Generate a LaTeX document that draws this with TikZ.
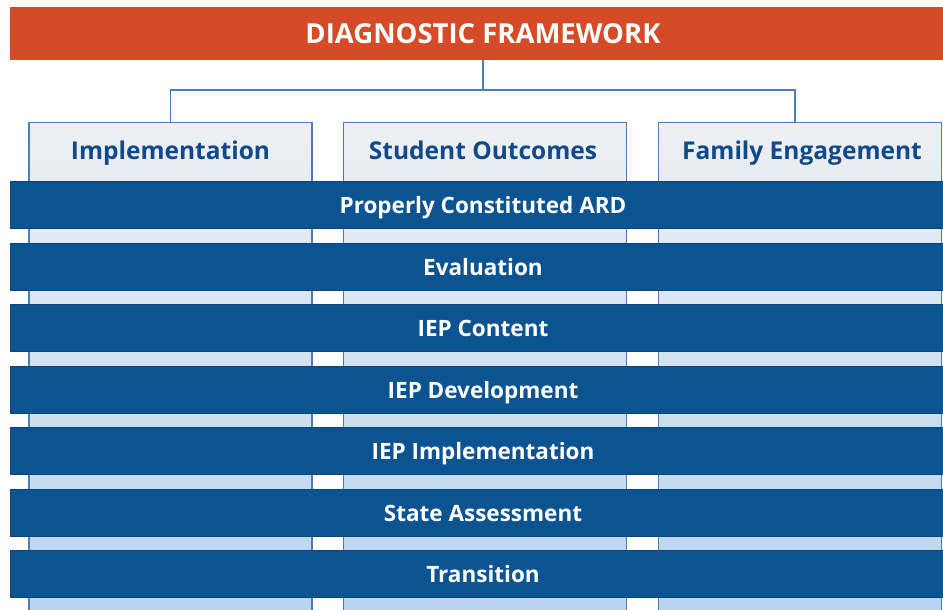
\documentclass[tikz,border=0pt]{standalone}
\usepackage{fontspec}
\setmainfont{Open Sans}
\usepackage{tikz}
\usetikzlibrary{calc}
\definecolor{titleorange}{RGB}{214,75,39}
\definecolor{bandblue}{RGB}{11,84,145}
\definecolor{bandedge}{RGB}{8,70,125}
\definecolor{headblue}{RGB}{17,74,138}
\definecolor{coledge}{RGB}{74,126,180}
\definecolor{coltop}{RGB}{238,240,243}
\definecolor{colbottom}{RGB}{178,210,240}
\tikzset{
	titlebar/.style={rectangle, fill=titleorange, minimum width=946pt, minimum height=53pt, inner sep=0pt, text=white, font=\fontsize{27.5}{32}\selectfont\bfseries},
	column/.style={rectangle, draw=coledge, line width=1.2pt, top color=coltop, bottom color=colbottom, minimum width=283pt, minimum height=520pt, anchor=north, inner sep=0pt},
	header/.style={text=headblue, font=\fontsize{24.5}{28}\selectfont\bfseries, inner sep=0pt, text height=22pt, text depth=5pt},
	band/.style={rectangle, fill=bandblue, draw=bandedge, line width=0.8pt, minimum width=946pt, minimum height=47pt, inner sep=0pt, text=white, text height=22pt, text depth=5pt, font=\fontsize{22.5}{26}\selectfont\bfseries},
	link/.style={draw=coledge, line width=1.2pt}
}
\newcommand{\makeband}[3]{
	\node[band] (#1) at (483,#2) {#3};
}

\begin{document}
\begin{tikzpicture}[x=1pt,y=-1pt]
	\useasboundingbox (0,0) rectangle (943,610);
	\clip (0,0) rectangle (943,610);
	\node[titlebar] (title) at (483,33.5) {DIAGNOSTIC FRAMEWORK};
	\coordinate (bus) at (483,90);

	\node[column] (impl) at (170.5,122) {};
	\node[column] (stud) at (485,122) {};
	\node[column] (fam) at (800,122) {};
	\node[header] (implT) at ($(impl.north)+(0,29)$) {Implementation};
	\node[header] (studT) at ($(stud.north)+(-2,29)$) {Student Outcomes};
	\node[header] (famT) at ($(fam.north)+(2,29)$) {Family Engagement};

	\draw[link] (title.south) -- (bus);
	\draw[link] (impl.north) |- (bus) -| ($(fam.north)+(-5,0)$);

	\makeband{ard}{205}{Properly Constituted ARD}
	\makeband{eval}{266.5}{Evaluation}
	\makeband{content}{328}{IEP Content}
	\makeband{develop}{389.5}{IEP Development}
	\makeband{implement}{451}{IEP Implementation}
	\makeband{assess}{512.5}{State Assessment}
	\makeband{trans}{574}{Transition}
\end{tikzpicture}
\end{document}
